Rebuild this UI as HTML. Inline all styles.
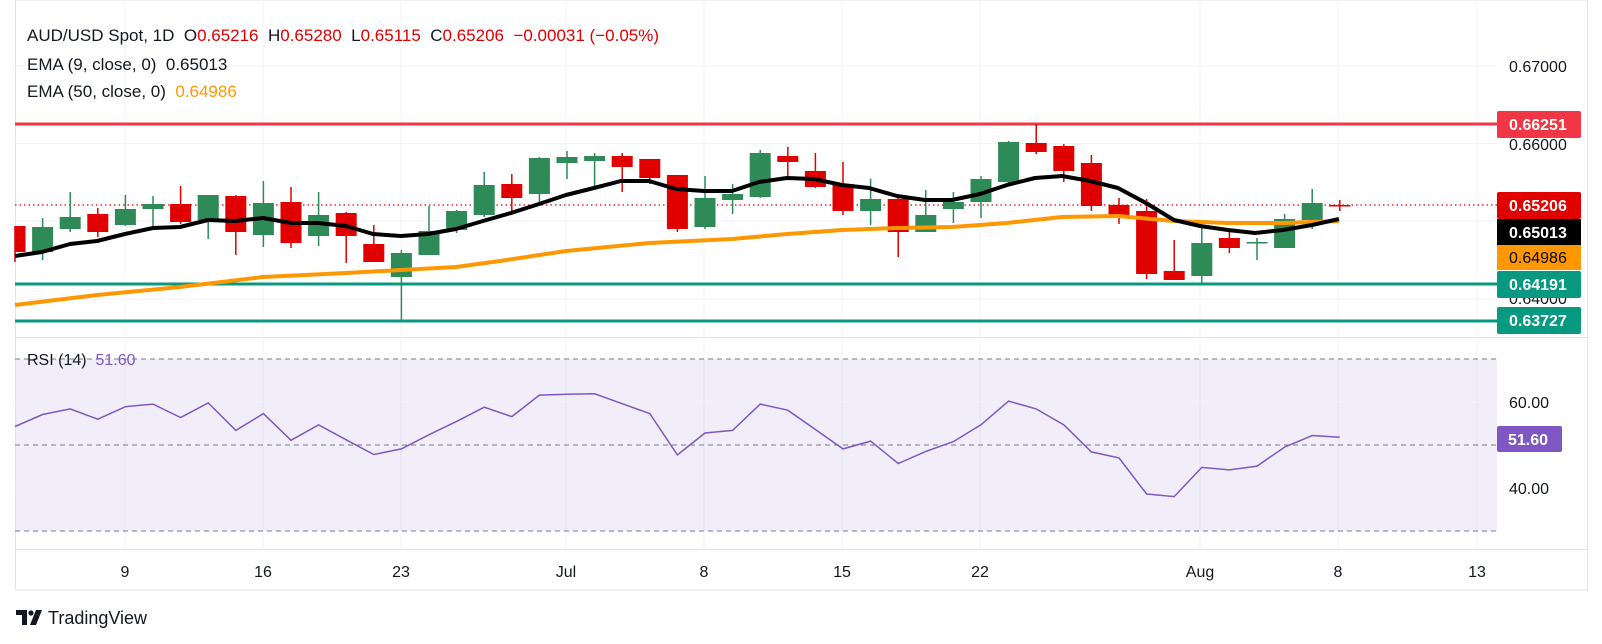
<!DOCTYPE html>
<html><head><meta charset="utf-8">
<style>
html,body{margin:0;padding:0;background:#fff;width:1602px;height:644px;overflow:hidden;font-family:"Liberation Sans",sans-serif;}
svg{position:absolute;left:0;top:0}
text{font-family:"Liberation Sans",sans-serif;white-space:pre}
</style></head><body>
<svg id="c" width="1602" height="644" viewBox="0 0 1602 644" xmlns="http://www.w3.org/2000/svg" xml:space="preserve">
<rect x="15.5" y="0" width="1572" height="590" fill="none" stroke="#e0e3eb" stroke-width="1"/>
<line x1="15" y1="337.5" x2="1587" y2="337.5" stroke="#e0e3eb"/>
<line x1="15" y1="549.5" x2="1587" y2="549.5" stroke="#e0e3eb"/>
<g stroke="#f0f3fa" stroke-width="1">
<line x1="15" y1="66" x2="1497" y2="66"/><line x1="15" y1="143.5" x2="1497" y2="143.5"/>
<line x1="15" y1="221" x2="1497" y2="221"/><line x1="15" y1="299" x2="1497" y2="299"/>
<line x1="125" y1="0" x2="125" y2="549"/><line x1="263" y1="0" x2="263" y2="549"/>
<line x1="401" y1="0" x2="401" y2="549"/><line x1="566" y1="0" x2="566" y2="549"/>
<line x1="704" y1="0" x2="704" y2="549"/><line x1="842" y1="0" x2="842" y2="549"/>
<line x1="980" y1="0" x2="980" y2="549"/><line x1="1200" y1="0" x2="1200" y2="549"/>
<line x1="1338" y1="0" x2="1338" y2="549"/><line x1="1477" y1="0" x2="1477" y2="549"/>
</g>
<rect x="16" y="359" width="1481" height="172" fill="#7e57c2" fill-opacity="0.1"/>
<g stroke="#f0f3fa"><line x1="15" y1="402" x2="1497" y2="402"/><line x1="15" y1="488" x2="1497" y2="488"/></g>
<g stroke="#787b86" stroke-dasharray="5,4" stroke-width="1">
<line x1="15" y1="359" x2="1497" y2="359"/><line x1="15" y1="445" x2="1497" y2="445"/><line x1="15" y1="531" x2="1497" y2="531"/>
</g>
<line x1="15" y1="124" x2="1497" y2="124" stroke="#f23645" stroke-width="3"/>
<line x1="15" y1="284" x2="1497" y2="284" stroke="#089981" stroke-width="3"/>
<line x1="15" y1="321" x2="1497" y2="321" stroke="#089981" stroke-width="3"/>
<line x1="15" y1="205" x2="1497" y2="205" stroke="#e00000" stroke-width="1.2" stroke-dasharray="1.5,3"/>
<g id="candles"></g>
<polyline id="ema50" fill="none" stroke="#ff9800" stroke-width="4" stroke-linejoin="round" points="15,305 97,295 180,287 263,277 346,273 401,270 456,267 500,261 566,251 649,243 732,239 787,234 842,230 897,228 952,227 1007,223 1062,217 1118,216 1174,221 1228,223 1283,223 1339,221"/>
<polyline id="ema9" fill="none" stroke="#000" stroke-width="4" stroke-linejoin="round" points="15,256 42,252 70,244 97,241 125,234 153,228 180,227 208,220 235,221 263,218 291,223 318,223 346,226 373,234 401,236 428,234 456,229 483,221 511,213 539,204 566,195 594,188 621,181 649,181 676,189 704,191 732,191 759,182 787,178 814,179 842,185 869,188 897,196 925,200 952,200 980,194 1007,185 1035,178 1062,176 1090,181 1118,188 1146,203 1174,220 1200,226 1228,230 1255,233 1283,230 1312,225 1339,219"/>
<polyline id="rsi" fill="none" stroke="#7e57c2" stroke-width="1.5"/>
<text x="27" y="41" font-size="17" fill="#131722">AUD/USD Spot, 1D  O<tspan fill="#e00000">0.65216</tspan>  H<tspan fill="#e00000">0.65280</tspan>  L<tspan fill="#e00000">0.65115</tspan>  C<tspan fill="#e00000">0.65206</tspan>  <tspan fill="#e00000">−0.00031 (−0.05%)</tspan></text>
<text x="27" y="70" font-size="17" fill="#131722">EMA (9, close, 0)  0.65013</text>
<text x="27" y="97" font-size="17" fill="#131722">EMA (50, close, 0)  <tspan fill="#ff9800">0.64986</tspan></text>
<text x="27" y="365" font-size="16" fill="#131722">RSI (14)  <tspan fill="#7e57c2">51.60</tspan></text>
<g font-size="16" fill="#131722">
<text x="1509" y="72">0.67000</text>
<text x="1509" y="150">0.66000</text>
<text x="1509" y="304">0.64000</text>
<text x="1509" y="408">60.00</text>
<text x="1509" y="494">40.00</text>
</g>
<g font-size="16" font-weight="bold">
<rect x="1497" y="111" width="84" height="27" rx="2" fill="#f23645"/><text x="1509" y="130" fill="#fff">0.66251</text>
<rect x="1497" y="192" width="84" height="27" rx="2" fill="#e00000"/><text x="1509" y="211" fill="#fff">0.65206</text>
<rect x="1497" y="219" width="84" height="26" fill="#000"/><text x="1509" y="238" fill="#fff">0.65013</text>
<rect x="1497" y="245" width="84" height="25" fill="#ff9800"/><text x="1509" y="263" fill="#000" font-weight="normal">0.64986</text>
<rect x="1497" y="271" width="84" height="27" rx="2" fill="#089981"/><text x="1509" y="290" fill="#fff">0.64191</text>
<rect x="1497" y="307" width="84" height="27" rx="2" fill="#089981"/><text x="1509" y="326" fill="#fff">0.63727</text>
<rect x="1497" y="426" width="65" height="26" rx="2" fill="#7e57c2"/><text x="1508" y="445" fill="#fff">51.60</text>
</g>
<g font-size="16" fill="#131722" text-anchor="middle">
<text x="125" y="577">9</text><text x="263" y="577">16</text><text x="401" y="577">23</text>
<text x="566" y="577">Jul</text><text x="704" y="577">8</text><text x="842" y="577">15</text>
<text x="980" y="577">22</text><text x="1200" y="577">Aug</text><text x="1338" y="577">8</text><text x="1477" y="577">13</text>
</g>
<g fill="#131722">
<rect x="16" y="610" width="11" height="5"/><rect x="22" y="610" width="5" height="15"/>
<circle cx="31" cy="613" r="2.6"/>
<polygon points="36,610 42,610 36,625 30,625"/>
<text x="48" y="624" font-size="18">TradingView</text>
</g>
</svg>
<script>
var C=[["r",226,252,226,262],["g",227,252,218,260],["g",217,229,192,232],["r",214,232,208,237],["g",209,225,195,226],["g",204,209,196,229],["r",204,222,186,224],["g",195,220,195,239],["r",196,232,195,255],["g",203,235,181,247],["r",202,243,187,248],["g",215,236,192,246],["r",213,236,212,263],["r",244,262,225,262],["g",253,277,250,320],["g",231,255,206,255],["g",211,230,210,233],["g",185,215,172,217],["r",184,198,174,215],["g",158,194,157,206],["g",157,163,151,179],["g",156,161,153,187],["r",156,167,153,192],["r",159,178,159,184],["r",175,229,175,232],["g",198,227,176,229],["g",194,200,184,214],["g",153,197,150,198],["r",156,162,147,177],["r",171,187,153,188],["r",184,211,162,215],["g",199,211,179,225],["r",199,232,196,257],["g",215,232,190,232],["g",202,209,192,223],["g",179,202,176,218],["g",142,182,141,185],["r",143,152,124,154],["r",146,171,144,182],["r",163,206,155,211],["r",205,215,198,224],["r",211,274,199,279],["r",271,280,240,280],["g",243,276,227,283],["r",238,248,229,253],["g",242,243,238,260],["g",219,248,214,248],["g",203,220,189,229],["r",205,206,200,211]];
var R=[54.3,57.1,58.4,56.0,58.9,59.5,56.4,59.8,53.4,57.3,51.1,54.7,51.2,47.8,49.1,52.4,55.5,58.8,56.6,61.6,61.8,61.9,59.6,57.3,47.7,52.8,53.4,59.5,58.1,53.6,49.1,50.9,45.7,48.5,50.8,54.7,60.2,58.4,54.7,48.4,47.0,38.6,38.0,44.8,44.2,45.1,49.5,52.2,51.8];
var g=document.getElementById("candles"),h="";
function X(i){return 15+27.6*i;}
C.forEach(function(c,i){var x=X(i),col=c[0]=="g"?"#2e8b57":"#e00000";
var t=Math.min(c[1],c[2]),b=Math.max(c[1],c[2]),hh=Math.max(b-t,1.5);
h+='<line x1="'+x+'" y1="'+c[3]+'" x2="'+x+'" y2="'+c[4]+'" stroke="'+col+'" stroke-width="1.5"/>';
var w=21,l=x-w/2; if(i==0){l=15;w=x+w/2-15;}
h+='<rect x="'+l+'" y="'+t+'" width="'+w+'" height="'+hh+'" fill="'+col+'"/>';});
g.innerHTML=h;
document.getElementById("rsi").setAttribute("points",R.map(function(v,i){return X(i)+","+(445-(v-50)*4.3).toFixed(1);}).join(" "));
</script>
</body></html>
